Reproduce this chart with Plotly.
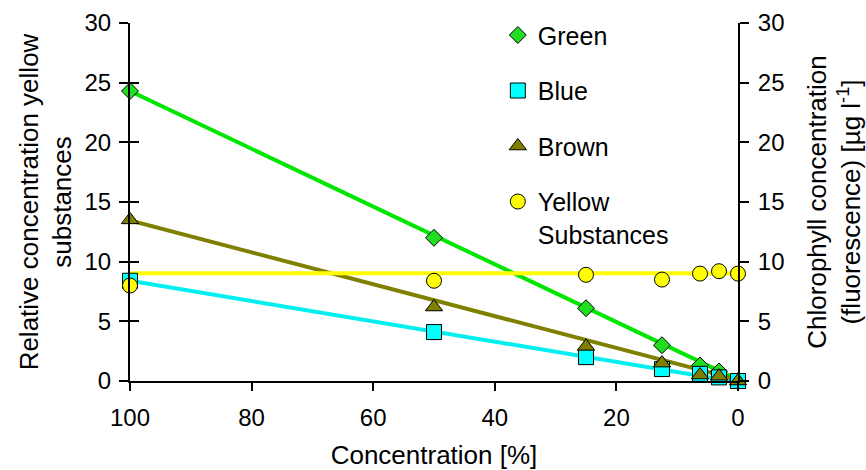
import plotly.graph_objects as go

# ---- data ----
conc = [100, 50, 25, 12.5, 6.25, 3.125, 0]
green = [24.3, 12.0, 6.1, 3.0, 1.3, 0.8, 0.0]
blue = [8.4, 4.1, 2.0, 1.0, 0.6, 0.3, 0.0]
brown = [13.5, 6.2, 2.9, 1.5, 0.5, 0.4, 0.0]
yellow = [8.0, 8.4, 8.9, 8.5, 9.0, 9.2, 9.0]

# trend lines (end values at 100 % and 0 %)
trend_x = [100, 0]
green_trend = [24.3, 0.1]
blue_trend = [8.4, -0.1]
brown_trend = [13.45, 0.1]
yellow_trend = [9.03, 9.03]

x_ticks = [100, 80, 60, 40, 20, 0]
y_ticks = [0, 5, 10, 15, 20, 25, 30]

FONT = "Arial, Liberation Sans, sans-serif"
FS_TICK = 24
FS_TITLE = 21.5
FS_LEG = 25
C_GREEN_LINE = "#00E600"
C_GREEN = "#22DD22"
C_BLUE_LINE = "#00F0F0"
C_BLUE = "#00FFFF"
C_BROWN = "#808000"
C_YELLOW = "#FFFF00"

tick_font = dict(family=FONT, size=FS_TICK, color="black")

fig = go.Figure()

# lines
for ty, col in [(green_trend, C_GREEN_LINE), (blue_trend, C_BLUE_LINE),
                (brown_trend, C_BROWN), (yellow_trend, C_YELLOW)]:
    fig.add_trace(go.Scatter(x=trend_x, y=ty, mode="lines",
                             line=dict(color=col, width=4),
                             showlegend=False, hoverinfo="skip",
                             cliponaxis=False))

# markers
mk_line = dict(color="black", width=1)
fig.add_trace(go.Scatter(x=conc, y=green, mode="markers", name="Green",
                         legendgroup="g", cliponaxis=False,
                         marker=dict(symbol="diamond", size=13, color=C_GREEN, line=mk_line)))
fig.add_trace(go.Scatter(x=conc, y=blue, mode="markers", name="Blue",
                         legendgroup="b", cliponaxis=False,
                         marker=dict(symbol="square", size=15, color=C_BLUE, line=mk_line)))
fig.add_trace(go.Scatter(x=conc, y=brown, mode="markers", name="Brown",
                         legendgroup="br", cliponaxis=False,
                         marker=dict(symbol="triangle-up", size=15, color=C_BROWN, line=mk_line)))
fig.add_trace(go.Scatter(x=conc, y=yellow, mode="markers", name="Yellow<br>Substances",
                         legendgroup="y", cliponaxis=False,
                         marker=dict(symbol="circle", size=15, color=C_YELLOW, line=mk_line)))

# right axis / inner tick dummy traces
fig.add_trace(go.Scatter(x=[None], y=[None], yaxis="y2", showlegend=False))
fig.add_trace(go.Scatter(x=[None], y=[None], yaxis="y3", showlegend=False))

fig.update_layout(
    width=866, height=470,
    margin=dict(l=130, r=128, t=22.5, b=88.5, autoexpand=False),
    paper_bgcolor="white", plot_bgcolor="white",
    font=dict(family=FONT, size=FS_TITLE, color="black"),
    showlegend=True,
    legend=dict(x=0.605, y=1.03, xanchor="left", yanchor="top",
                bgcolor="rgba(0,0,0,0)", traceorder="grouped",
                tracegroupgap=20, valign="top", maxheight=460,
                font=dict(family=FONT, size=FS_LEG, color="black"),
                itemsizing="trace"),
    xaxis=dict(range=[100, 0], tickvals=x_ticks, ticks="outside", ticklen=8,
               tickwidth=2, tickcolor="black", showline=True, linecolor="black",
               linewidth=2, showgrid=False, zeroline=False, ticklabelstandoff=6,
               automargin=False,
               title=dict(text="Concentration [%]", standoff=18),
               tickfont=tick_font),
    yaxis=dict(range=[0, 30], tickvals=y_ticks, ticks="outside", ticklen=9,
               tickwidth=2, tickcolor="black", showline=True, linecolor="black",
               linewidth=2, showgrid=False, zeroline=False, ticklabelstandoff=3,
               automargin=False,
               title=dict(text="Relative concentration yellow<br>substances", standoff=5),
               tickfont=tick_font),
    yaxis2=dict(range=[0, 30], tickvals=y_ticks, overlaying="y", side="right",
                ticks="outside", ticklen=9, tickwidth=2, tickcolor="black",
                showline=True, linecolor="black", linewidth=2, showgrid=False,
                zeroline=False, ticklabelstandoff=4, automargin=False,
                title=dict(text="Chlorophyll concentration<br>(fluorescence) [µg l<sup>-1</sup>]",
                           standoff=26),
                tickfont=tick_font),
    yaxis3=dict(range=[0, 30], tickvals=y_ticks, overlaying="y", side="left",
                ticks="inside", ticklen=9, tickwidth=2, tickcolor="black",
                showticklabels=False, showline=False, showgrid=False, zeroline=False,
                automargin=False),
)

fig.write_html("out.html")
